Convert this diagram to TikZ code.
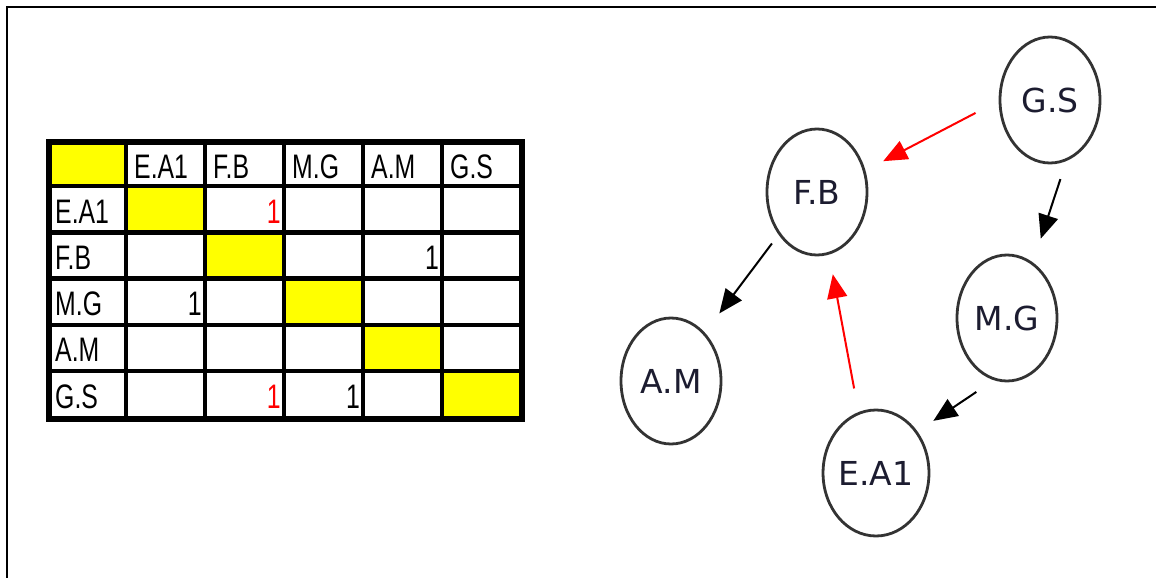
\documentclass[tikz,border=0pt]{standalone}
\usepackage{fontspec}
\setmainfont{Liberation Sans}
\newfontfamily\graphfont{DejaVu Sans}
\usetikzlibrary{shapes.geometric,arrows.meta}
\definecolor{inkblue}{RGB}{28,28,48}
\definecolor{cellyellow}{RGB}{255,255,0}
\newcommand{\cellfont}{\fontsize{34}{40}\selectfont}
\newcommand{\squeeze}[1]{\scalebox{0.73}[1]{#1}}

\begin{document}
\begin{tikzpicture}[x=1pt,y=-1pt]
        \tikzstyle{person}=[ellipse,draw=black!80,line width=2.8pt,minimum width=100pt,minimum height=126pt,inner sep=0pt,text=inkblue,font=\graphfont\fontsize{33}{40}\selectfont]
        \tikzstyle{arc}=[draw,line width=2pt,-{Triangle[length=24pt,width=20pt]}]
        \tikzstyle{heading}=[anchor=base west,inner sep=0pt,font=\cellfont]
        \tikzstyle{entry}=[anchor=base east,inner sep=0pt,font=\cellfont]
        \useasboundingbox (0,0) rectangle (1156,578);
        % frame
        \draw[line width=2.5pt] (7,578) -- (7,7) -- (1156,7);
        % matrix
        \begin{scope}
         \fill[cellyellow] (47,140) rectangle +(79,46.2);
         \foreach \i in {1,...,5}
           \fill[cellyellow] (47+79*\i,140+46.2*\i) rectangle +(79,46.2);
         \foreach \i in {1,...,5} {
           \draw[line width=4.5pt] (47+79*\i,140) -- (47+79*\i,418);
           \draw[line width=4.5pt] (47,140+46.2*\i) -- (522,140+46.2*\i);
         }
         \draw[line width=6.5pt] (49,142) rectangle (522,419);
         \foreach \n [count=\i] in {E.A1,F.B,M.G,A.M,G.S} {
           \node [heading] (h\i) at (47+79*\i+8,178) {\squeeze{\n}};
           \node [heading] (r\i) at (55,140+46.2*\i+37) {\squeeze{\n}};
         }
         \foreach \r/\c/\col in {1/2/red,2/4/black,3/1/black,5/2/red,5/3/black}
           \node [entry,text=\col] (e\r\c) at (47+79*\c+79-3,140+46.2*\r+37) {\squeeze{1}};
        \end{scope}
        % graph
        \begin{scope}
         \node [person] (gs) at (1050,100) {G.S};
         \node [person] (fb) at (817,192) {F.B};
         \node [person] (mg) at (1007,318) {M.G};
         \node [person] (am) at (671,381) {A.M};
         \node [person] (ea) at (876,473) {E.A1};
         \path (gs.181) edge [arc,red,shorten <=26pt,shorten >=20pt] (fb.24);
         \path (gs.285) edge [arc,shorten <=19pt,shorten >=25pt] (mg.65);
         \path (fb.228) edge [arc,shorten <=11pt,shorten >=24pt] (am.55);
         \path (ea.106) edge [arc,red,shorten <=24pt,shorten >=20pt] (fb.281);
         \path (mg.258) edge [arc,shorten <=21pt,shorten >=19pt] (ea.45);
        \end{scope}
\end{tikzpicture}
\end{document}
